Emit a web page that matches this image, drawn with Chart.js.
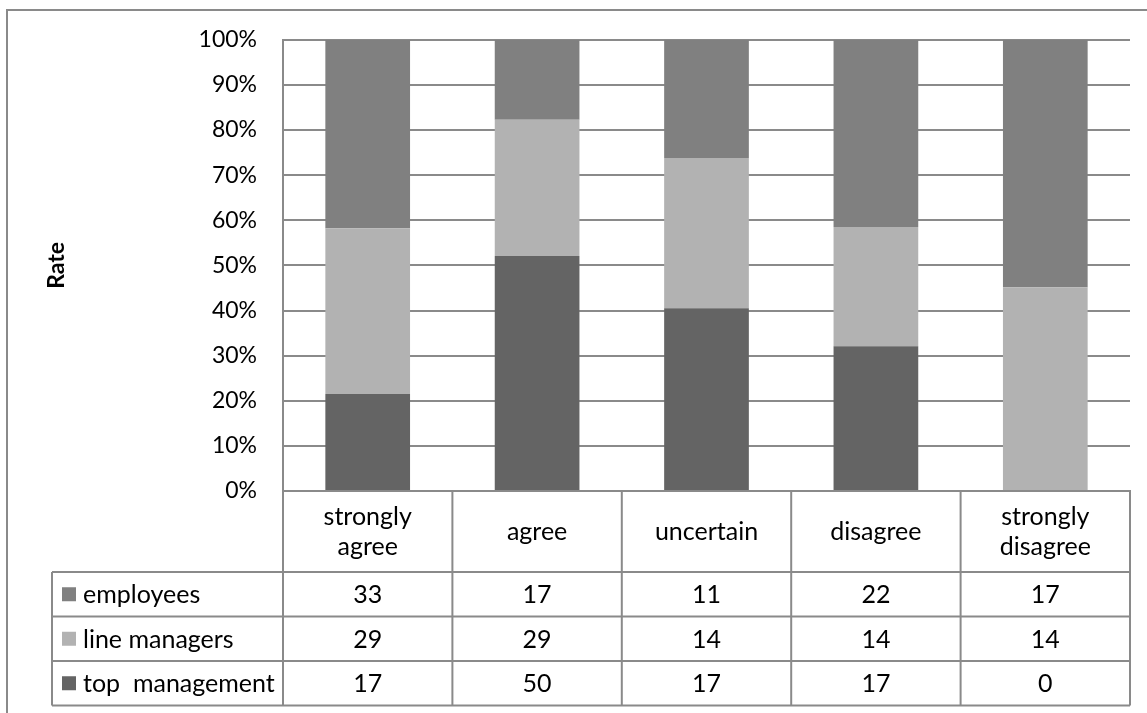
<!DOCTYPE html>
<html>
<head>
<meta charset="utf-8">
<script src="https://cdn.jsdelivr.net/npm/chart.js@4.4.1/dist/chart.umd.min.js"></script>
<style>
  html, body { margin: 0; padding: 0; background: #fff; }
  #wrap { width: 1147px; height: 713px; }
</style>
</head>
<body>
<div id="wrap"><canvas id="rateChart"></canvas></div>
<script>
// answer categories (multi-line labels as arrays)
const categories = [['strongly', 'agree'], ['agree'], ['uncertain'], ['disagree'], ['strongly', 'disagree']];

// respondent counts per group
const topManagement = [17, 50, 17, 17, 0];
const lineManagers = [29, 29, 14, 14, 14];
const employees = [33, 17, 11, 22, 17];

const groupNames = ['top  management', 'line managers', 'employees'];
const groupColors = ['#646464', '#b2b2b2', '#808080'];

const yTicks = [0, 10, 20, 30, 40, 50, 60, 70, 80, 90, 100];

const FONT = 'Lato';
const LINE = '#8a8a8a';
const TEXT = '#000';
const groups = [topManagement, lineManagers, employees];

// share of each group inside a category, in percent
const totals = categories.map((_, i) => groups.reduce((s, g) => s + g[i], 0));
const toPercent = arr => arr.map((v, i) => totals[i] ? v / totals[i] * 100 : 0);

const tablePlugin = {
    id: 'dataTable',
    beforeDraw(chart) {
        const ctx = chart.ctx;
        ctx.save();
        ctx.strokeStyle = LINE;
        ctx.lineWidth = 2;
        ctx.strokeRect(7, 10, 1160, 730);
        ctx.restore();
    },
    afterDraw(chart) {
        const ctx = chart.ctx;
        const area = chart.chartArea;
        const n = categories.length;
        const colW = (area.right - area.left) / n;
        const legendLeft = 52;
        const headerBottom = 572;
        const rowH = 44.5;
        const tableBottom = headerBottom + rowH * 3;

        ctx.save();
        ctx.strokeStyle = LINE;
        ctx.lineWidth = 2;
        ctx.beginPath();
        // vertical column edges
        for (let i = 0; i <= n; i++) {
            const x = area.left + i * colW;
            ctx.moveTo(x, area.bottom);
            ctx.lineTo(x, tableBottom);
        }
        ctx.moveTo(legendLeft, headerBottom);
        ctx.lineTo(legendLeft, tableBottom);
        // horizontal row edges
        for (let r = 0; r <= 3; r++) {
            const y = headerBottom + r * rowH;
            ctx.moveTo(legendLeft, y);
            ctx.lineTo(area.right, y);
        }
        ctx.stroke();

        ctx.fillStyle = TEXT;
        ctx.font = '25px ' + FONT;
        ctx.textAlign = 'center';
        ctx.textBaseline = 'middle';

        // header: category names
        const headMid = (area.bottom + headerBottom) / 2;
        const lh = 30;
        categories.forEach((lines, i) => {
            const cx = chart.scales.x.getPixelForValue(i);
            const y0 = headMid - (lines.length - 1) * lh / 2;
            lines.forEach((t, j) => ctx.fillText(t, cx, y0 + j * lh));
        });

        // one row per group, employees first
        const order = [2, 1, 0];
        order.forEach((g, r) => {
            const cy = headerBottom + r * rowH + rowH / 2;
            ctx.fillStyle = groupColors[g];
            ctx.fillRect(62, cy - 7, 14, 14);
            ctx.fillStyle = TEXT;
            ctx.textAlign = 'left';
            ctx.fillText(groupNames[g], 83, cy + 1);
            ctx.textAlign = 'center';
            groups[g].forEach((v, i) => {
                ctx.fillText(String(v), chart.scales.x.getPixelForValue(i), cy + 1);
            });
        });
        ctx.restore();
    }
};

new Chart(document.getElementById('rateChart').getContext('2d'), {
    type: 'bar',
    data: {
        labels: categories.map(c => c.join(' ')),
        datasets: groups.map((g, k) => ({
            label: groupNames[k],
            data: toPercent(g),
            backgroundColor: groupColors[k],
            borderWidth: 0,
            categoryPercentage: 1,
            barPercentage: 0.5
        }))
    },
    options: {
        responsive: true,
        maintainAspectRatio: false,
        animation: false,
        layout: { padding: { left: 40, top: 39, right: 17, bottom: 222 } },
        scales: {
            x: {
                stacked: true,
                grid: { display: false },
                border: { display: true, color: LINE, width: 2 },
                ticks: { display: false },
                afterFit: scale => { scale.height = 0; }
            },
            y: {
                stacked: true,
                min: 0,
                max: 100,
                afterBuildTicks: scale => { scale.ticks = yTicks.map(v => ({ value: v })); },
                afterFit: scale => { scale.width = 243; },
                grid: { color: LINE, lineWidth: 2, drawTicks: false },
                border: { display: true, color: LINE, width: 2 },
                ticks: {
                    padding: 26,
                    color: TEXT,
                    font: { family: FONT, size: 23 },
                    callback: v => v + '%'
                },
                title: {
                    display: true,
                    text: 'Rate',
                    color: TEXT,
                    font: { family: FONT, size: 23, weight: 'bold' },
                    padding: { top: 3, bottom: 0 }
                }
            }
        },
        plugins: {
            legend: { display: false },
            tooltip: { enabled: false }
        }
    },
    plugins: [tablePlugin]
});
</script>
</body>
</html>
